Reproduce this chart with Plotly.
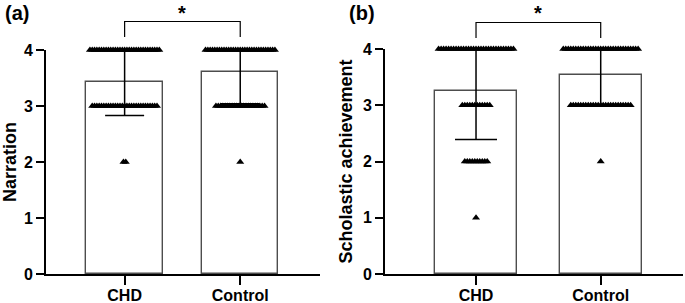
import plotly.graph_objects as go

# ---- data ----
categories = ["CHD", "Control"]
score_levels = [4, 3, 2, 1]

# panel (a) Narration
narr_mean = [3.43, 3.60]
narr_sd = [0.60, 0.56]
narr_counts_chd = [31, 29, 2, 0]      # number of children at score 4,3,2,1
narr_counts_ctrl = [31, 22, 1, 0]

# panel (b) Scholastic achievement
schol_mean = [3.25, 3.54]
schol_sd = [0.86, 0.55]
schol_counts_chd = [31, 12, 10, 1]
schol_counts_ctrl = [31, 25, 1, 0]

panel_labels = ["(a)", "(b)"]
y_titles = ["Narration", "Scholastic achievement"]
y_ticks = [0, 1, 2, 3, 4]
y_max = 4

FONT = "Liberation Sans, Arial, sans-serif"
H = 303.0
W = 685.0


def spread_points(counts, cat_index, step=0.02, max_spread=0.60):
    xs, ys = [], []
    for level, n in zip(score_levels, counts):
        if n <= 0:
            continue
        spread = min((n - 1) * step, max_spread)
        for i in range(n):
            off = 0 if n == 1 else -spread / 2 + spread * i / (n - 1)
            xs.append(cat_index + off)
            ys.append(level)
    return xs, ys


fig = go.Figure()

panels = [
    (narr_mean, narr_sd, [narr_counts_chd, narr_counts_ctrl], "x", "y", 19.5),
    (schol_mean, schol_sd, [schol_counts_chd, schol_counts_ctrl], "x2", "y2", 21),
]

for mean, sd, counts, xa, ya, capw in panels:
    upper = [min(s, y_max - m) for m, s in zip(mean, sd)]
    fig.add_trace(go.Bar(
        x=[0, 1], y=mean, width=0.66,
        marker=dict(color="white", line=dict(color="#4d4d4d", width=1.4)),
        error_y=dict(type="data", symmetric=False, array=upper, arrayminus=sd,
                     color="black", thickness=1.5, width=capw),
        xaxis=xa, yaxis=ya, hoverinfo="skip",
    ))
    px, py = [], []
    for ci, c in enumerate(counts):
        xs, ys = spread_points(c, ci)
        px += xs
        py += ys
    fig.add_trace(go.Scatter(
        x=px, y=py, mode="markers", cliponaxis=False,
        marker=dict(symbol="triangle-up", size=7, color="black", line=dict(width=0)),
        xaxis=xa, yaxis=ya, hoverinfo="skip",
    ))

axis_common = dict(showline=True, linewidth=2, linecolor="black", ticks="outside",
                   tickwidth=2, tickcolor="black", showgrid=False, zeroline=False,
                   automargin=False,
                   tickfont=dict(family=FONT, size=16, color="black", weight="bold"))

fig.update_layout(
    width=685, height=303, margin=dict(l=0, r=0, t=0, b=0, pad=0),
    paper_bgcolor="white", plot_bgcolor="white", showlegend=False, bargap=0,
    xaxis=dict(domain=[46 / W, 320 / W], range=[-0.68, 1.69], tickvals=[0, 1],
               ticktext=categories, ticklen=9, ticklabelstandoff=-3, anchor="y",
               **axis_common),
    yaxis=dict(domain=[29 / H, 253 / H], range=[0, y_max], tickvals=y_ticks,
               ticklen=8, anchor="x",
               title=dict(text=y_titles[0], standoff=10,
                          font=dict(family=FONT, size=18, color="black", weight="bold")),
               **axis_common),
    xaxis2=dict(domain=[385 / W, 683 / W], range=[-0.73, 1.66], tickvals=[0, 1],
                ticktext=categories, ticklen=9, ticklabelstandoff=-3, anchor="y2",
                **axis_common),
    yaxis2=dict(domain=[29 / H, 254 / H], range=[0, y_max], tickvals=y_ticks,
                ticklen=8, anchor="x2",
                title=dict(text=y_titles[1], standoff=6,
                           font=dict(family=FONT, size=18, color="black", weight="bold")),
                **axis_common),
)

# significance brackets (pixel rows measured from the top of the figure)
for xr, top_px, bot_px in [("x", 21.5, 37), ("x2", 22.5, 38)]:
    ytop = 1 - top_px / H
    ybot = 1 - bot_px / H
    fig.add_shape(type="path", xref=xr, yref="paper",
                  path=f"M 0,{ybot} L 0,{ytop} L 1,{ytop} L 1,{ybot}",
                  line=dict(color="black", width=1.2))
    fig.add_annotation(x=0.5, y=ytop, xref=xr, yref="paper", text="*", showarrow=False,
                       yanchor="bottom", yshift=-4,
                       font=dict(family=FONT, size=20, color="black", weight="bold"))

for lbl, xp in zip(panel_labels, [3 / W, 347 / W]):
    fig.add_annotation(x=xp, y=1 - 13 / H, xref="paper", yref="paper", text=lbl,
                       showarrow=False, xanchor="left", yanchor="middle",
                       font=dict(family=FONT, size=20, color="black", weight="bold"))

fig.write_html("out.html", config={"displayModeBar": False},
               post_script="document.body.style.margin='0';"
                           "document.body.style.overflow='hidden';")
